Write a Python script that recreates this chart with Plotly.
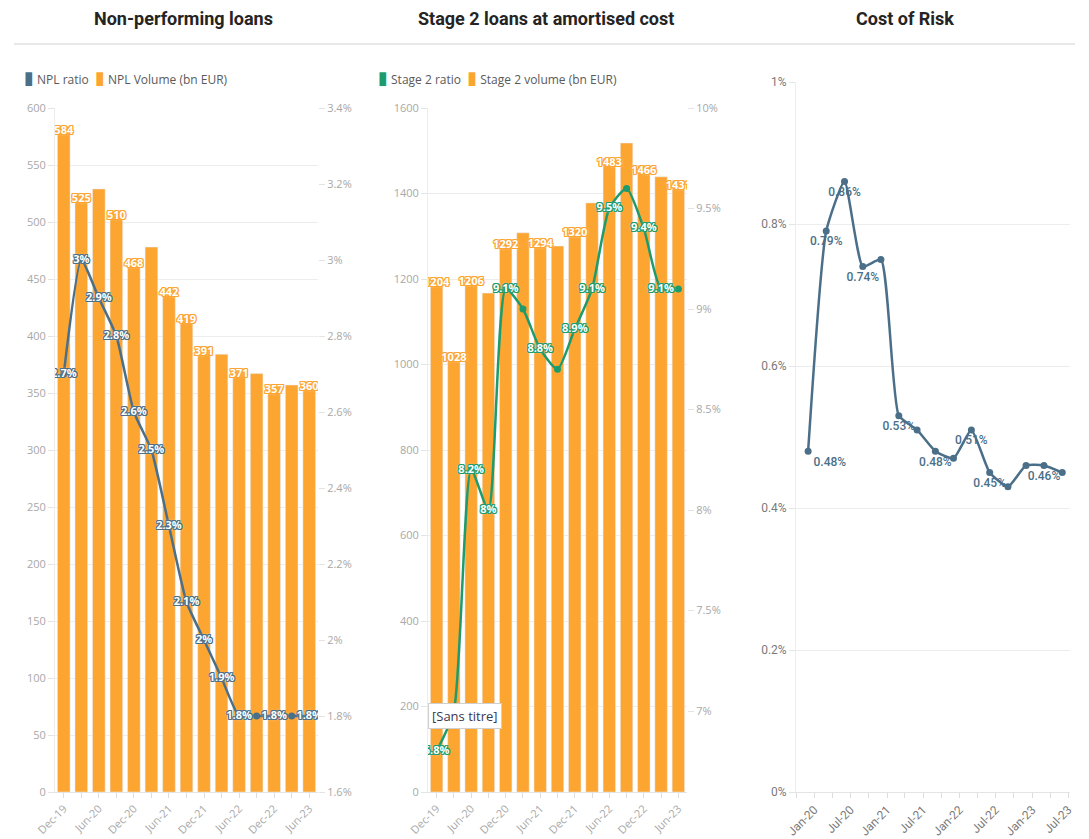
import plotly.graph_objects as go

# ---------------- data ----------------
quarters = ["Dec-19", "Mar-20", "Jun-20", "Sep-20", "Dec-20", "Mar-21", "Jun-21", "Sep-21",
            "Dec-21", "Mar-22", "Jun-22", "Sep-22", "Dec-22", "Mar-23", "Jun-23"]
quarter_ticks = [q if q.startswith(("Dec", "Jun")) else "" for q in quarters]

npl_volume = [584, 525, 529, 510, 468, 478, 442, 419, 391, 384, 371, 367, 357, 357, 360]
npl_volume_lab = [0, 1, 3, 4, 6, 7, 8, 10, 12, 14]
npl_ratio = [2.7, 3.0, 2.9, 2.8, 2.6, 2.5, 2.3, 2.1, 2.0, 1.9, 1.8, 1.8, 1.8, 1.8, 1.8]
npl_ratio_lab = [0, 1, 2, 3, 4, 5, 6, 7, 8, 9, 10, 12, 14]

s2_volume = [1204, 1028, 1206, 1167, 1292, 1308, 1294, 1277, 1320, 1378, 1483, 1518, 1466, 1439, 1431]
s2_volume_lab = [0, 1, 2, 4, 6, 8, 10, 12, 14]
s2_ratio = [6.8, 7.0, 8.2, 8.0, 9.1, 9.0, 8.8, 8.7, 8.9, 9.1, 9.5, 9.6, 9.4, 9.1, 9.1]
s2_ratio_lab = [0, 2, 3, 4, 6, 8, 9, 10, 12, 13]

cor_dates = ["2019-12-01", "2020-03-01", "2020-06-01", "2020-09-01", "2020-12-01", "2021-03-01",
             "2021-06-01", "2021-09-01", "2021-12-01", "2022-03-01", "2022-06-01", "2022-09-01",
             "2022-12-01", "2023-03-01", "2023-06-01"]
cor_values = [0.48, 0.79, 0.86, 0.74, 0.75, 0.53, 0.51, 0.48, 0.47, 0.51, 0.45, 0.43, 0.46, 0.46, 0.45]
cor_lab = [0, 1, 2, 3, 5, 7, 9, 10, 13]

titles = ["Non-performing loans", "Stage 2 loans at amortised cost", "Cost of Risk"]
legend1 = ["NPL ratio", "NPL Volume (bn EUR)"]
legend2 = ["Stage 2 ratio", "Stage 2 volume (bn EUR)"]

# ---------------- style ----------------
PAGE_MARGIN = 8                      # default body margin of the html page
W, H = 1089 - PAGE_MARGIN, 839 - PAGE_MARGIN
ORANGE = "#FDA531"
SLATE = "#4B6F88"
GREEN = "#1E9B6D"
GRID = "#EDEDED"
TICK = "#A8A8A8"
FONT = "Open Sans"


def px(x):
    return (x - PAGE_MARGIN) / W


def py(y):
    return 1 - (y - PAGE_MARGIN) / H


def outline(c):
    o1 = [(1, 0), (-1, 0), (0, 1), (0, -1), (1, 1), (-1, -1), (1, -1), (-1, 1)]
    parts = [f"{a}px {b}px 0 {c}" for a, b in o1] + ["0 0 3px #ffffff"]
    return ", ".join(parts)


def labels(vals, idx, fmt):
    return [fmt(v) if i in idx else "" for i, v in enumerate(vals)]


pct = lambda v: f"{v:g}%"
num = lambda v: f"{v:g}"

fig = go.Figure()

# ---------- Panel 1 ----------
fig.add_trace(go.Bar(x=quarters, y=npl_volume, marker_color=ORANGE, xaxis="x", yaxis="y",
                     showlegend=False, hoverinfo="skip"))
fig.add_trace(go.Scatter(x=quarters, y=npl_volume, mode="text",
                         text=labels(npl_volume, npl_volume_lab, num), textposition="bottom center",
                         textfont=dict(family=FONT, size=11, color="white", weight=700,
                                       shadow=outline(ORANGE)),
                         xaxis="x", yaxis="y", showlegend=False, hoverinfo="skip"))
fig.add_trace(go.Scatter(x=quarters, y=npl_ratio, mode="lines+markers+text",
                         line=dict(color=SLATE, width=2.5, shape="spline", smoothing=0.5),
                         marker=dict(color=SLATE, size=7),
                         text=labels(npl_ratio, npl_ratio_lab, pct), textposition="middle center",
                         textfont=dict(family=FONT, size=11, color="white", weight=700,
                                       shadow=outline(SLATE)),
                         xaxis="x", yaxis="y2", showlegend=False, hoverinfo="skip"))

# ---------- Panel 2 ----------
fig.add_trace(go.Bar(x=quarters, y=s2_volume, marker_color=ORANGE, xaxis="x2", yaxis="y3",
                     showlegend=False, hoverinfo="skip"))
fig.add_trace(go.Scatter(x=quarters, y=s2_volume, mode="text",
                         text=labels(s2_volume, s2_volume_lab, num), textposition="bottom center",
                         textfont=dict(family=FONT, size=11, color="white", weight=700,
                                       shadow=outline(ORANGE)),
                         xaxis="x2", yaxis="y3", showlegend=False, hoverinfo="skip"))
fig.add_trace(go.Scatter(x=quarters, y=s2_ratio, mode="lines+markers+text",
                         line=dict(color=GREEN, width=2.5, shape="spline", smoothing=0.6),
                         marker=dict(color=GREEN, size=7),
                         text=labels(s2_ratio, s2_ratio_lab, pct), textposition="middle center",
                         textfont=dict(family=FONT, size=11, color="white", weight=700,
                                       shadow=outline(GREEN)),
                         xaxis="x2", yaxis="y4", showlegend=False, hoverinfo="skip"))

# ---------- Panel 3 ----------
cor_pos = ["bottom right" if i == 0 else "bottom center" for i in range(len(cor_values))]
fig.add_trace(go.Scatter(x=cor_dates, y=cor_values, mode="lines+markers+text",
                         line=dict(color=SLATE, width=2.5, shape="spline", smoothing=0.5),
                         marker=dict(color=SLATE, size=7),
                         text=labels(cor_values, cor_lab, lambda v: f"{v:.2f}%"),
                         textposition=cor_pos,
                         textfont=dict(family="Roboto", size=12, color=SLATE, weight=500),
                         cliponaxis=False,
                         xaxis="x3", yaxis="y5", showlegend=False, hoverinfo="skip"))

tickfont = dict(family=FONT, size=11, color=TICK)
dinfont = dict(family="Roboto", size=12, color="#7A7A7A")

y_top, y_bot = py(108), py(792)
common_x = dict(type="category", categoryorder="array", categoryarray=quarters,
                range=[-0.5, len(quarters) - 0.5],
                tickvals=quarters, ticktext=quarter_ticks, tickangle=-45, tickfont=tickfont,
                ticks="outside", ticklen=5, tickcolor="#DDDDDD", showline=True,
                linecolor="#E4E4E4", showgrid=False, automargin=False)
left_y = dict(showgrid=True, gridcolor=GRID, tickfont=tickfont, ticks="outside", ticklen=6,
              tickcolor="#E4E4E4", showline=True, linecolor="#EDEDED", zeroline=False,
              automargin=False)
right_y = dict(showgrid=False, tickfont=tickfont, ticks="outside", ticklen=6, tickcolor="#E4E4E4",
               ticksuffix="%", side="right", zeroline=False, showline=False, automargin=False)

fig.update_layout(
    width=W, height=H, margin=dict(l=0, r=0, t=0, b=0, autoexpand=False),
    paper_bgcolor="white", plot_bgcolor="white", bargap=0.28, showlegend=False,
    xaxis=dict(domain=[px(55), px(318)], anchor="y", **common_x),
    yaxis=dict(domain=[y_bot, y_top], range=[0, 600], dtick=50, anchor="x", **left_y),
    yaxis2=dict(overlaying="y", anchor="x", range=[1.6, 3.4], dtick=0.2, **right_y),
    xaxis2=dict(domain=[px(428), px(687)], anchor="y3", **common_x),
    yaxis3=dict(domain=[y_bot, y_top], range=[0, 1600], dtick=200, anchor="x2", **left_y),
    yaxis4=dict(overlaying="y3", anchor="x2", range=[6.597, 10], tick0=7, dtick=0.5, **right_y),
    xaxis3=dict(domain=[px(796), px(1070)], anchor="y5", type="date",
                range=["2019-10-01", "2023-07-10"], tick0="2020-01-01", dtick="M6",
                tickformat="%b-%y", tickangle=-45, tickfont=dinfont, ticks="outside",
                ticklen=5, tickcolor="#DDDDDD", showline=True, linecolor="#E4E4E4",
                showgrid=False, automargin=False,
                minor=dict(dtick="M3", tick0="2019-10-01", ticks="outside", ticklen=5,
                           tickcolor="#DDDDDD", showgrid=False)),
    yaxis5=dict(domain=[y_bot, py(82)], range=[0, 1], dtick=0.2, ticksuffix="%", anchor="x3",
                showgrid=True, gridcolor=GRID, tickfont=dinfont, ticks="outside", ticklen=6,
                tickcolor="#E4E4E4", showline=True, linecolor="#EDEDED", zeroline=False,
                automargin=False),
)

# titles
for t, cx in zip(titles, [183, 546, 905]):
    fig.add_annotation(text=f"<b>{t}</b>", x=px(cx), y=py(18), xref="paper", yref="paper",
                       showarrow=False, xanchor="center", yanchor="middle",
                       font=dict(family="Roboto", size=18, color="#252423"))

# legends (one text line per panel, coloured bullets)
for items, cols, lx in [(legend1, [SLATE, ORANGE], 22), (legend2, [GREEN, ORANGE], 376)]:
    txt = "  ".join(f"<span style='color:{c};font-family:DejaVu Sans;font-size:18px'>▮</span> {n}"
                    for n, c in zip(items, cols))
    fig.add_annotation(text=txt, x=px(lx), y=py(78), xref="paper", yref="paper",
                       showarrow=False, xanchor="left", yanchor="middle",
                       font=dict(family=FONT, size=12, color="#5A5A5A"))

# separator line under titles
fig.add_shape(type="line", xref="paper", yref="paper", x0=px(14), x1=px(1075), y0=py(44),
              y1=py(44), line=dict(color="#E1E1E1", width=1.5))

# tooltip artifact
fig.add_annotation(text="[Sans titre]", x=px(465), y=py(716), xref="paper", yref="paper",
                   showarrow=False, xanchor="center", yanchor="middle",
                   font=dict(family=FONT, size=13, color="#3A3550"), bgcolor="white",
                   bordercolor="#CFCFCF", borderwidth=1, borderpad=3)

fig.write_html("out.html")
